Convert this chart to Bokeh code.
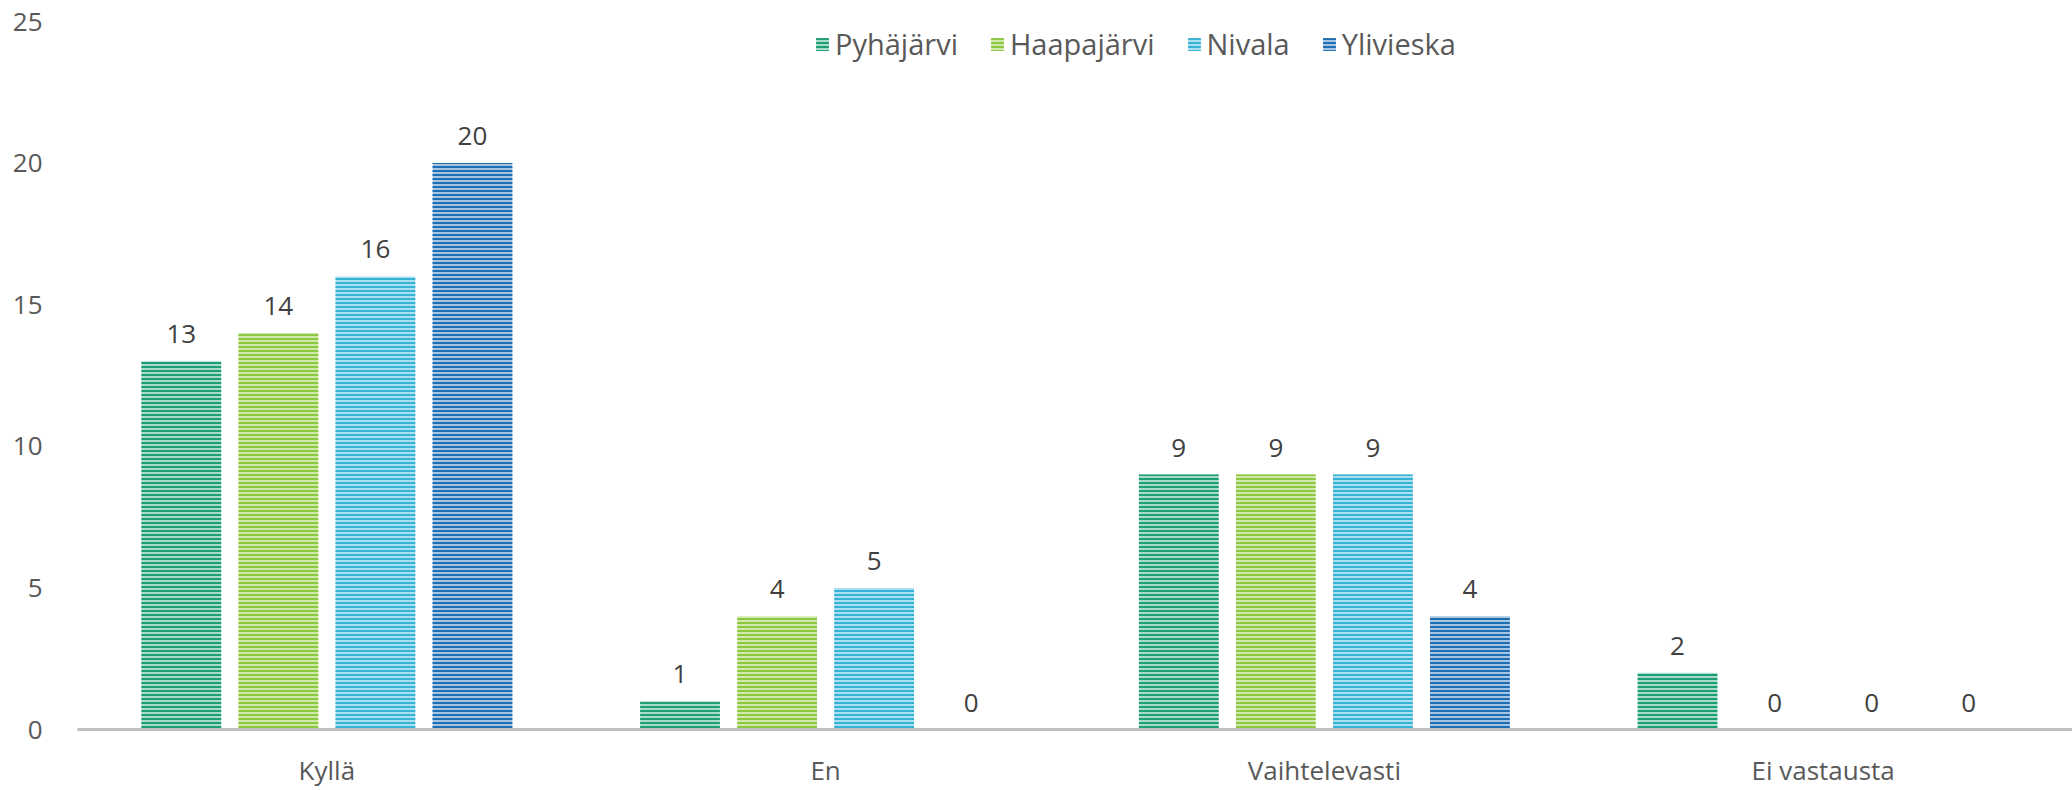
from bokeh.plotting import figure
from bokeh.models import ColumnDataSource, FactorRange, Range1d, Legend, LegendItem, FixedTicker
from bokeh.transform import dodge
from bokeh.core.properties import value
from bokeh.embed import file_html
from bokeh.resources import INLINE

categories = ["Kyllä", "En", "Vaihtelevasti", "Ei vastausta"]
series = ["Pyhäjärvi", "Haapajärvi", "Nivala", "Ylivieska"]
pyhajarvi = [13, 1, 9, 2]
haapajarvi = [14, 4, 9, 0]
nivala = [16, 5, 9, 0]
ylivieska = [20, 0, 4, 0]
y_ticks = [0, 5, 10, 15, 20, 25]

line_colors = ["#1F9D78", "#8DC641", "#35B2D6", "#1F6EB2"]
fill_colors = ["#A8DCC9", "#D0E8AA", "#ABDFEF", "#A6C5E3"]
offsets = [-0.2919, -0.0973, 0.0973, 0.2919]
FONT = "Open Sans"

data = {"cat": categories}
for name, vals in zip(series, [pyhajarvi, haapajarvi, nivala, ylivieska]):
    data[name] = vals
    data[name + "_lbl"] = [str(v) for v in vals]
src = ColumnDataSource(data)

p = figure(x_range=FactorRange(*categories, range_padding=0), y_range=Range1d(0, 25),
           width=2072, height=790, output_backend="svg", toolbar_location=None,
           min_border_left=77, min_border_right=0, min_border_top=21, min_border_bottom=59)
p.outline_line_color = None
p.xgrid.grid_line_color = None
p.ygrid.grid_line_color = None
p.background_fill_color = "white"
p.border_fill_color = "white"

items = []
for name, lc, fc, off in zip(series, line_colors, fill_colors, offsets):
    r = p.vbar(x=dodge("cat", off, range=p.x_range), top=name, width=0.16, source=src,
               fill_color=fc, line_color=None,
               hatch_pattern="horizontal_line", hatch_color=lc, hatch_scale=4, hatch_weight=2)
    p.text(x=dodge("cat", off, range=p.x_range), y=name, text=name + "_lbl", source=src,
           text_align="center", text_baseline="middle", y_offset=-27,
           text_font=value(FONT), text_font_size="26px", text_color="#404040")
    items.append(LegendItem(label=name, renderers=[r]))

legend = Legend(items=items, orientation="horizontal", location=(737, 666),
                glyph_width=16, glyph_height=16, label_standoff=5, spacing=31,
                padding=0, margin=0, border_line_alpha=0, background_fill_alpha=0,
                label_text_font=FONT, label_text_font_size="29px", label_text_color="#595959")
p.add_layout(legend, "center")

p.yaxis.ticker = FixedTicker(ticks=y_ticks)
p.yaxis.axis_line_color = None
p.yaxis.major_tick_line_color = None
p.yaxis.minor_tick_line_color = None
p.yaxis.major_label_standoff = 29
p.yaxis.major_label_text_font = FONT
p.yaxis.major_label_text_font_size = "26px"
p.yaxis.major_label_text_color = "#595959"

p.xaxis.axis_line_color = "#BFBFBF"
p.xaxis.axis_line_width = 3
p.xaxis.major_tick_line_color = None
p.xaxis.minor_tick_line_color = None
p.xaxis.major_label_standoff = 16
p.xaxis.axis_label_standoff = 0
p.xaxis.major_label_text_font = FONT
p.xaxis.major_label_text_font_size = "26px"
p.xaxis.major_label_text_color = "#595959"

open("out.html", "w").write(file_html(p, INLINE))
